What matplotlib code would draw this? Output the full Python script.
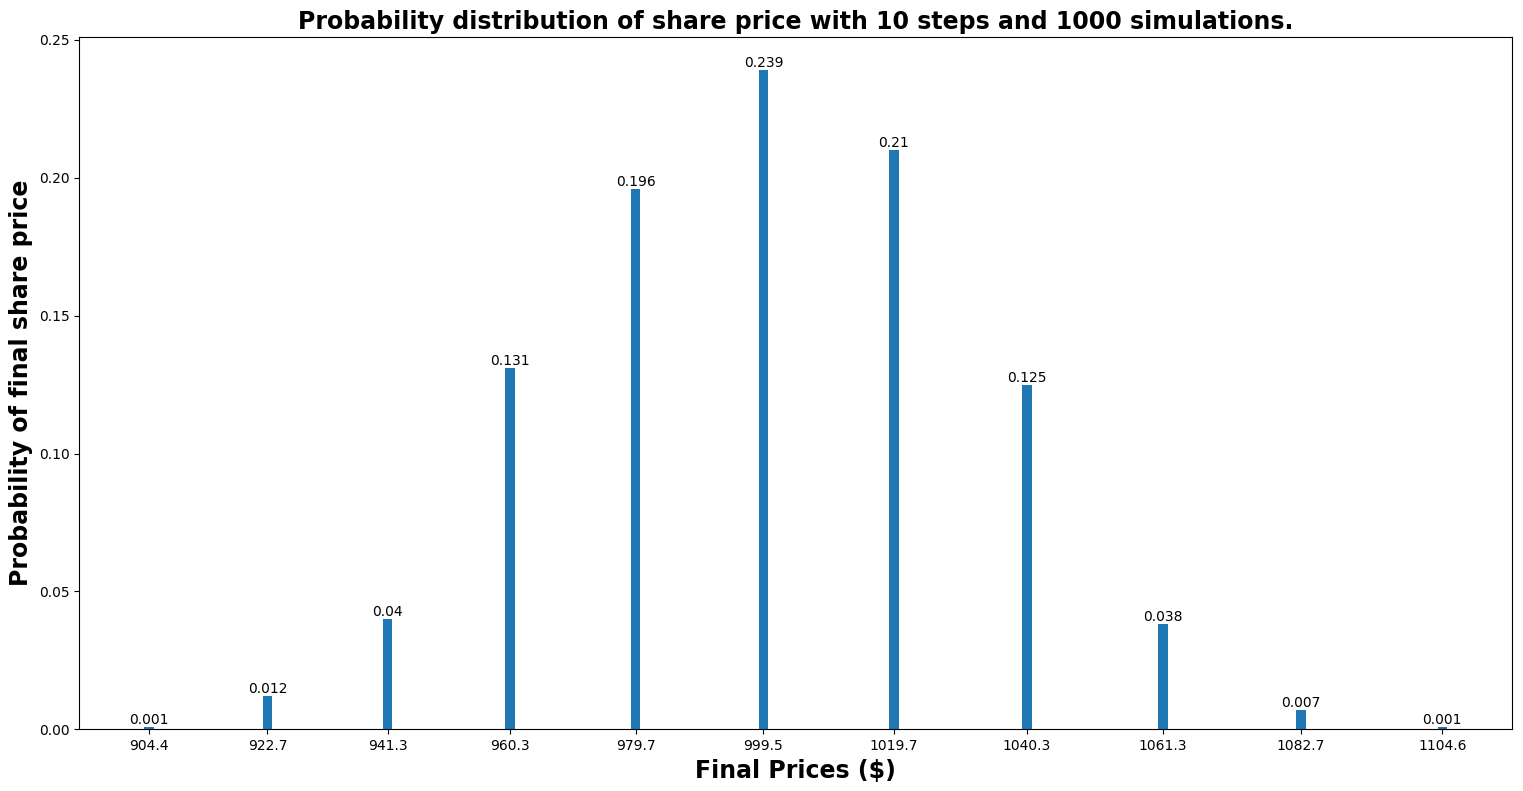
import matplotlib
matplotlib.use("Agg")
import matplotlib.pyplot as plt

prices = [904.4, 922.7, 941.3, 960.3, 979.7, 999.5, 1019.7, 1040.3, 1061.3, 1082.7, 1104.6]
probs = [0.001, 0.012, 0.04, 0.131, 0.196, 0.239, 0.21, 0.125, 0.038, 0.007, 0.001]

fig, ax = plt.subplots(figsize=(15.23, 7.91), dpi=100)
fig.subplots_adjust(left=0.052, right=0.993, top=0.953, bottom=0.078)

ax.bar(prices, probs, width=1.5, color="#1f77b4")
for p, v in zip(prices, probs):
    ax.text(p, v, str(v), ha="center", va="bottom", fontsize=10)

ax.set_xticks(prices)
ax.set_xticklabels([str(p) for p in prices])
ax.set_xlabel("Final Prices ($)", fontsize=17, fontweight="bold")
ax.set_ylabel("Probability of final share price", fontsize=17, fontweight="bold")
ax.set_title("Probability distribution of share price with 10 steps and 1000 simulations.",
             fontsize=17, fontweight="bold")

fig.savefig("out.png", dpi=100)
